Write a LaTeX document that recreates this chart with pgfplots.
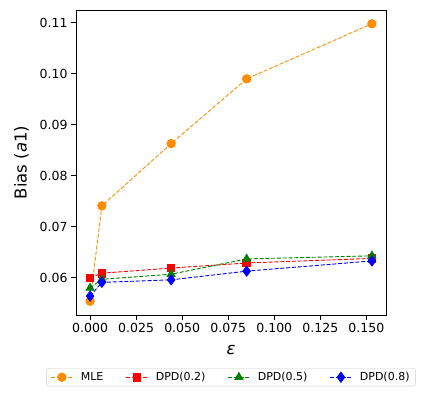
\documentclass[border=0pt]{standalone}
\usepackage{fontspec}
\setmainfont{DejaVu Sans}
\usepackage{pgfplots}
\pgfplotsset{compat=1.18}
\usetikzlibrary{calc}
\definecolor{morange}{RGB}{255,140,0}
\definecolor{mgreen}{RGB}{0,128,0}
\begin{document}
\begin{tikzpicture}
\begin{axis}[
  name=ax,
  width=310pt, height=305pt, scale only axis,
  xmin=-0.00765, xmax=0.16065,
  ymin=0.0527, ymax=0.1125,
  xtick={0,0.025,0.05,0.075,0.1,0.125,0.15},
  ytick={0.06,0.07,0.08,0.09,0.10,0.11},
  xticklabel style={/pgf/number format/.cd, fixed, fixed zerofill, precision=3},
  yticklabel style={/pgf/number format/.cd, fixed, fixed zerofill, precision=2},
  /pgf/number format/assume math mode=true,
  scaled x ticks=false, scaled y ticks=false,
  tick label style={font=\fontsize{12.5}{14}\selectfont},
  tick align=outside, tick pos=left,
  major tick length=4.9pt,
  every tick/.style={black, line width=0.9pt},
  axis line style={line width=0.9pt},
  xlabel={\textit{ε}}, ylabel={Bias (\textit{a}1)},
  label style={font=\fontsize{16.5}{19}\selectfont},
  xlabel style={yshift=-5pt},
  ylabel style={yshift=4pt},
  legend style={at={(0.5,-0.174)}, anchor=north, legend columns=4,
    font=\fontsize{11}{13}\selectfont, draw=black!20, rounded corners=2.5pt,
    /tikz/every even column/.append style={column sep=20pt},
    /tikz/every odd column/.append style={column sep=5.5pt},
    inner xsep=4pt, inner ysep=2pt},
  legend image code/.code={\draw[mark repeat=2,mark phase=2] plot coordinates {(0pt,0pt) (11pt,0pt) (22pt,0pt)};},
  every axis plot/.append style={line width=0.9pt, dash pattern=on 4pt off 1.8pt},
]
\addplot[color=morange, mark=*, mark size=4.2pt, mark options={solid}] coordinates {
 (0,0.0554) (0.0064,0.0741) (0.044,0.0863) (0.085,0.0990) (0.153,0.1098)};
\addlegendentry{MLE}
\addplot[color=red, mark=square*, mark size=3.8pt, mark options={solid}] coordinates {
 (0,0.0600) (0.0064,0.0609) (0.044,0.0619) (0.085,0.0629) (0.153,0.0638)};
\addlegendentry{DPD(0.2)}
\addplot[color=mgreen, mark=triangle*, mark size=4.6pt, mark options={solid}] coordinates {
 (0,0.0580) (0.0064,0.0597) (0.044,0.0607) (0.085,0.0637) (0.153,0.0643)};
\addlegendentry{DPD(0.5)}
\addplot[color=blue, mark=diamond*, mark size=5pt, mark options={solid}] coordinates {
 (0,0.0564) (0.0064,0.0591) (0.044,0.0596) (0.085,0.0613) (0.153,0.0633)};
\addlegendentry{DPD(0.8)}
\end{axis}
\path ($(ax.south west)+(-76pt,-83pt)$) rectangle ($(ax.north east)+(41pt,10pt)$);
\end{tikzpicture}
\end{document}
